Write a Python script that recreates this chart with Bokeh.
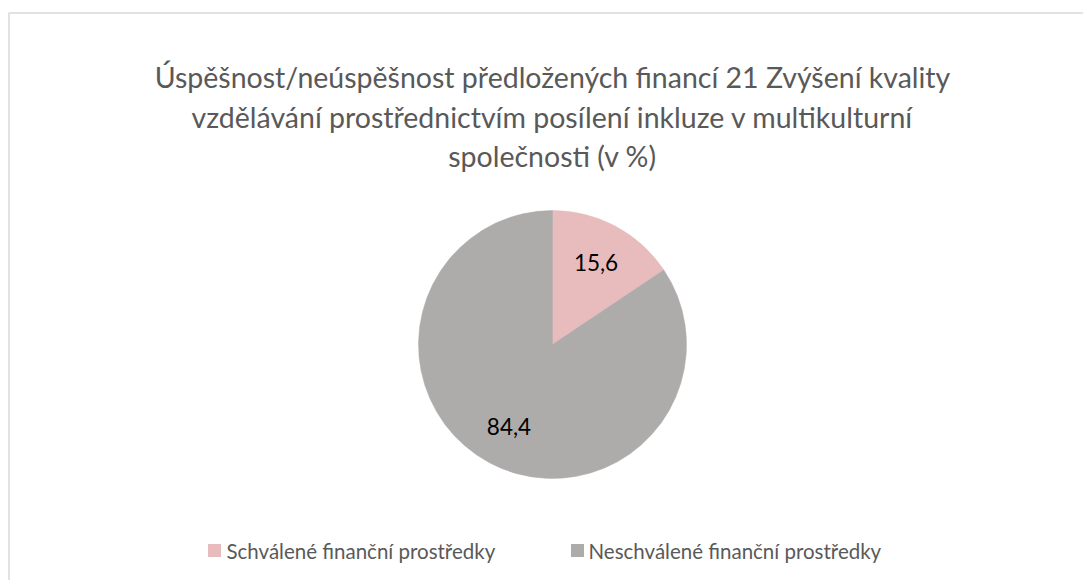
import math
from bokeh.plotting import figure
from bokeh.models import ColumnDataSource, Range1d
from bokeh.core.properties import value
from bokeh.embed import file_html
from bokeh.resources import INLINE

# ---- data ----
categories = ["Schválené finanční prostředky", "Neschválené finanční prostředky"]
values = [15.6, 84.4]
labels = ["15,6", "84,4"]
colors = ["#E8BCBD", "#AEABAB"]
title_lines = [
    "Úspěšnost/neúspěšnost předložených financí 21 Zvýšení kvality",
    "vzdělávání prostřednictvím posílení inkluze v multikulturní",
    "společnosti (v %)",
]

W, H = 1083, 580
FONT = value("Lato")


def Y(py):
    return H - py


p = figure(width=W, height=H, output_backend="svg", toolbar_location=None,
           x_range=Range1d(0, W), y_range=Range1d(0, H), min_border=0)
p.axis.visible = False
p.grid.visible = False
p.outline_line_color = None
p.background_fill_color = "white"

# chart border (left + top visible)
p.line([8.5, 8.5, W], [0, Y(12.5), Y(12.5)], line_color="#D9D9D9", line_width=1.5)

# pie
cx, cy, R = 552, Y(344), 134
total = sum(values)
starts, ends, mids = [], [], []
a = math.pi / 2
for v in values:
    starts.append(a)
    mids.append(a - math.pi * v / total)
    a -= 2 * math.pi * v / total
    ends.append(a)
src = ColumnDataSource(dict(start=starts, end=ends, color=colors, cat=categories))
p.wedge(x=cx, y=cy, radius=R, start_angle="start", end_angle="end",
        direction="clock", fill_color="color", line_color="color", line_width=0.5,
        source=src)

# data labels at mid-angle
lr = 0.69 * R
lx = [cx + lr * math.cos(m) for m in mids]
ly = [cy + lr * math.sin(m) for m in mids]
p.text(x=lx, y=ly, text=labels, text_align="center", text_baseline="middle",
       text_font=FONT, text_font_size="22.5px", text_color="#000000")

# title
p.text(x=[552] * 3, y=[Y(76), Y(116), Y(155)], text=title_lines, text_align="center",
       text_baseline="alphabetic", text_font=FONT, text_font_size="28.5px",
       text_color="#595959")

# legend
leg_y = Y(550)
p.rect(x=[214, 577], y=[leg_y] * 2, width=13, height=13, fill_color=colors, line_color=None)
p.text(x=[226, 588], y=[leg_y] * 2, text=categories, text_align="left", text_baseline="middle",
       text_font=FONT, text_font_size="20.5px", text_color="#595959")

open("out.html", "w").write(file_html(p, INLINE))
